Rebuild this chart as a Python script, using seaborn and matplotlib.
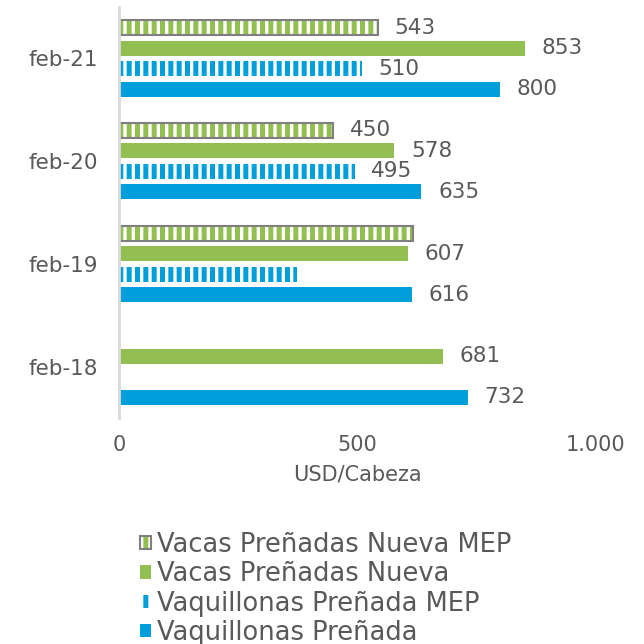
import matplotlib
matplotlib.use("Agg")
import matplotlib.pyplot as plt
from matplotlib.patches import Patch, Rectangle
import seaborn as sns
import pandas as pd
import numpy as np

# data (USD per head)
dates = ['feb-21', 'feb-20', 'feb-19', 'feb-18']
vacas_mep = [543, 450, 618, np.nan]
vacas = [853, 578, 607, 681]
vaquillonas_mep = [510, 495, 373, np.nan]
vaquillonas = [800, 635, 616, 732]
series = ['Vacas Preñadas Nueva MEP', 'Vacas Preñadas Nueva',
          'Vaquillonas Preñada MEP', 'Vaquillonas Preñada']
# bars without a value label in the original
no_label = {('Vacas Preñadas Nueva MEP', 'feb-19'), ('Vaquillonas Preñada MEP', 'feb-19')}

GREEN = '#93bf52'
BLUE = '#009fdb'
TEXT = '#595959'

rows = []
for s, vals in zip(series, [vacas_mep, vacas, vaquillonas_mep, vaquillonas]):
    for d, v in zip(dates, vals):
        rows.append({'fecha': d, 'serie': s, 'usd': v})
df = pd.DataFrame(rows)

sns.set_style('white')
plt.rcParams['font.family'] = ['DejaVu Sans']
plt.rcParams['hatch.linewidth'] = 3.6

fig = plt.figure(figsize=(6.44, 6.44), dpi=100)
ax = fig.add_axes([0.185, 0.351, 0.739, 0.638])

palette = {series[0]: GREEN, series[1]: GREEN, series[2]: BLUE, series[3]: BLUE}
sns.barplot(data=df.dropna(), y='fecha', x='usd', hue='serie', order=dates,
            hue_order=series, palette=palette, orient='h', gap=0.27,
            saturation=1, legend=False, ax=ax)

for s, cont in zip(series, ax.containers):
    present = [d for d, v in zip(dates, df[df.serie == s].usd) if not np.isnan(v)]
    labels = []
    for d, bar in zip(present, cont):
        val = bar.get_width()
        labels.append('' if (s, d) in no_label else f'{val:.0f}')
        if 'MEP' in s:
            col = GREEN if s.startswith('Vacas') else BLUE
            bar.set_facecolor('white')
            bar.set_edgecolor(col)
            bar.set_hatch('||')
            bar.set_linewidth(0)
            if s.startswith('Vacas'):
                ax.add_patch(Rectangle(bar.get_xy(), bar.get_width(), bar.get_height(),
                                       fill=False, edgecolor='#7f7f7f', lw=1.5))
        else:
            bar.set_linewidth(0)
    ax.bar_label(cont, labels=labels, padding=12, fontsize=15.5, color=TEXT)

ax.set_xlim(0, 1000)
ax.set_ylim(3.5, -0.5)
ax.set_xticks([0, 500, 1000])
ax.set_xticklabels(['0', '500', '1.000'])
ax.tick_params(axis='x', labelsize=15, colors=TEXT, length=0, pad=12)
ax.tick_params(axis='y', labelsize=15.5, colors=TEXT, length=0, pad=15)
ax.set_xlabel('USD/Cabeza', fontsize=15, color=TEXT, labelpad=7)
ax.set_ylabel('')
for side in ['top', 'right', 'bottom']:
    ax.spines[side].set_visible(False)
ax.spines['left'].set_color('#d9d9d9')
ax.spines['left'].set_linewidth(2)

handles = [
    (Patch(facecolor='white', edgecolor=GREEN, hatch='||', lw=0),
     Patch(fill=False, edgecolor='#7f7f7f', lw=1.5)),
    Patch(facecolor=GREEN, lw=0),
    Patch(facecolor='white', edgecolor=BLUE, hatch='||', lw=0),
    Patch(facecolor=BLUE, lw=0),
]
fig.legend(handles, series, loc='upper left', bbox_to_anchor=(0.217, 0.174),
           frameon=False, fontsize=18.5, labelcolor=TEXT, handlelength=0.42,
           handleheight=0.42, handletextpad=0.27, labelspacing=0.13, borderpad=0,
           borderaxespad=0)

fig.savefig('out.png', dpi=100)
